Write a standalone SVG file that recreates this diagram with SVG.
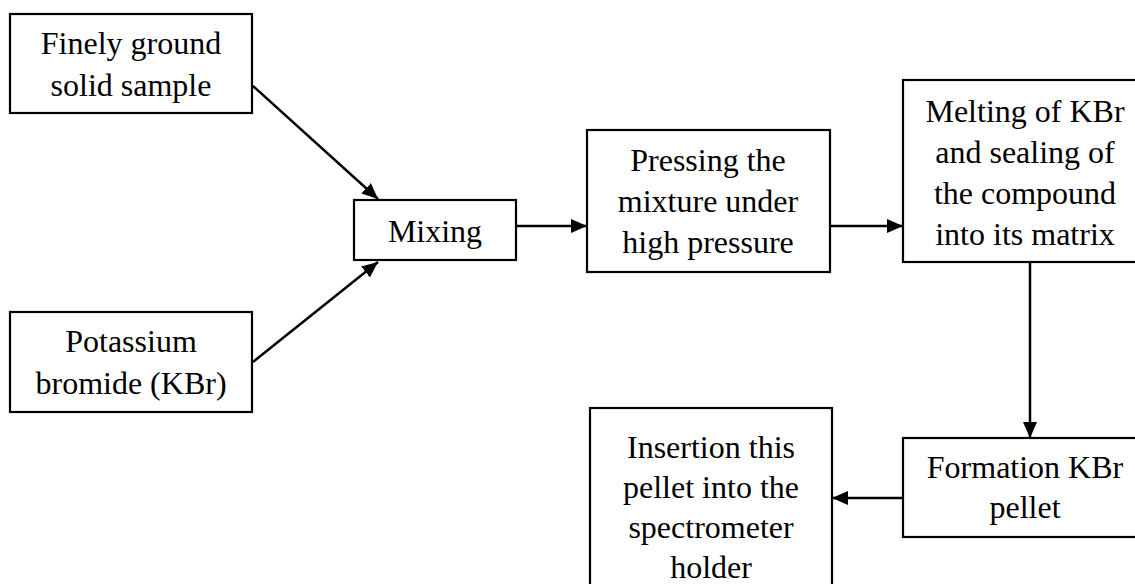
<svg xmlns="http://www.w3.org/2000/svg" width="1135" height="584" viewBox="0 0 1135 584">
<defs>
<style>
.box{fill:#fff;stroke:#000;stroke-width:2.2}
.t{font-family:"Liberation Serif","Times New Roman",serif;font-size:32px;fill:#000;text-anchor:middle}
.c{stroke:#000;stroke-width:2.5;fill:none;marker-end:url(#ah)}
</style>
<marker id="ah" markerUnits="userSpaceOnUse" markerWidth="17" markerHeight="15" refX="16" refY="7" orient="auto">
<path d="M0,0 L16,7 L0,14 z" fill="#000"/>
</marker>
</defs>
<rect width="1135" height="584" fill="#fff"/>
<g id="connectors">
<line class="c" x1="253" y1="86" x2="378" y2="199"/>
<line class="c" x1="253" y1="362" x2="378" y2="262"/>
<line class="c" x1="516" y1="226" x2="587" y2="226"/>
<line class="c" x1="830" y1="226" x2="903" y2="226"/>
<line class="c" x1="1030" y1="262" x2="1030" y2="438"/>
<line class="c" x1="903" y1="498" x2="832" y2="498"/>
</g>
<g id="sample">
<rect class="box" x="10" y="14" width="242" height="99"/>
<text class="t" x="131" y="54">Finely ground</text>
<text class="t" x="131" y="96">solid sample</text>
</g>
<g id="kbr">
<rect class="box" x="10" y="312" width="242" height="100"/>
<text class="t" x="131" y="352">Potassium</text>
<text class="t" x="131" y="394">bromide (KBr)</text>
</g>
<g id="mixing">
<rect class="box" x="354" y="200" width="162" height="60"/>
<text class="t" x="435" y="242">Mixing</text>
</g>
<g id="pressing">
<rect class="box" x="587" y="130" width="243" height="142"/>
<text class="t" x="708" y="171">Pressing the</text>
<text class="t" x="708" y="212">mixture under</text>
<text class="t" x="708" y="253">high pressure</text>
</g>
<g id="melting">
<rect class="box" x="903" y="80" width="246" height="182"/>
<text class="t" x="1025" y="122">Melting of KBr</text>
<text class="t" x="1025" y="163">and sealing of</text>
<text class="t" x="1025" y="204">the compound</text>
<text class="t" x="1025" y="245">into its matrix</text>
</g>
<g id="formation">
<rect class="box" x="903" y="438" width="246" height="99"/>
<text class="t" x="1025" y="478">Formation KBr</text>
<text class="t" x="1025" y="518">pellet</text>
</g>
<g id="insertion">
<rect class="box" x="590" y="408" width="242" height="190"/>
<text class="t" x="711" y="458">Insertion this</text>
<text class="t" x="711" y="498">pellet into the</text>
<text class="t" x="711" y="538">spectrometer</text>
<text class="t" x="711" y="578">holder</text>
</g>
</svg>
